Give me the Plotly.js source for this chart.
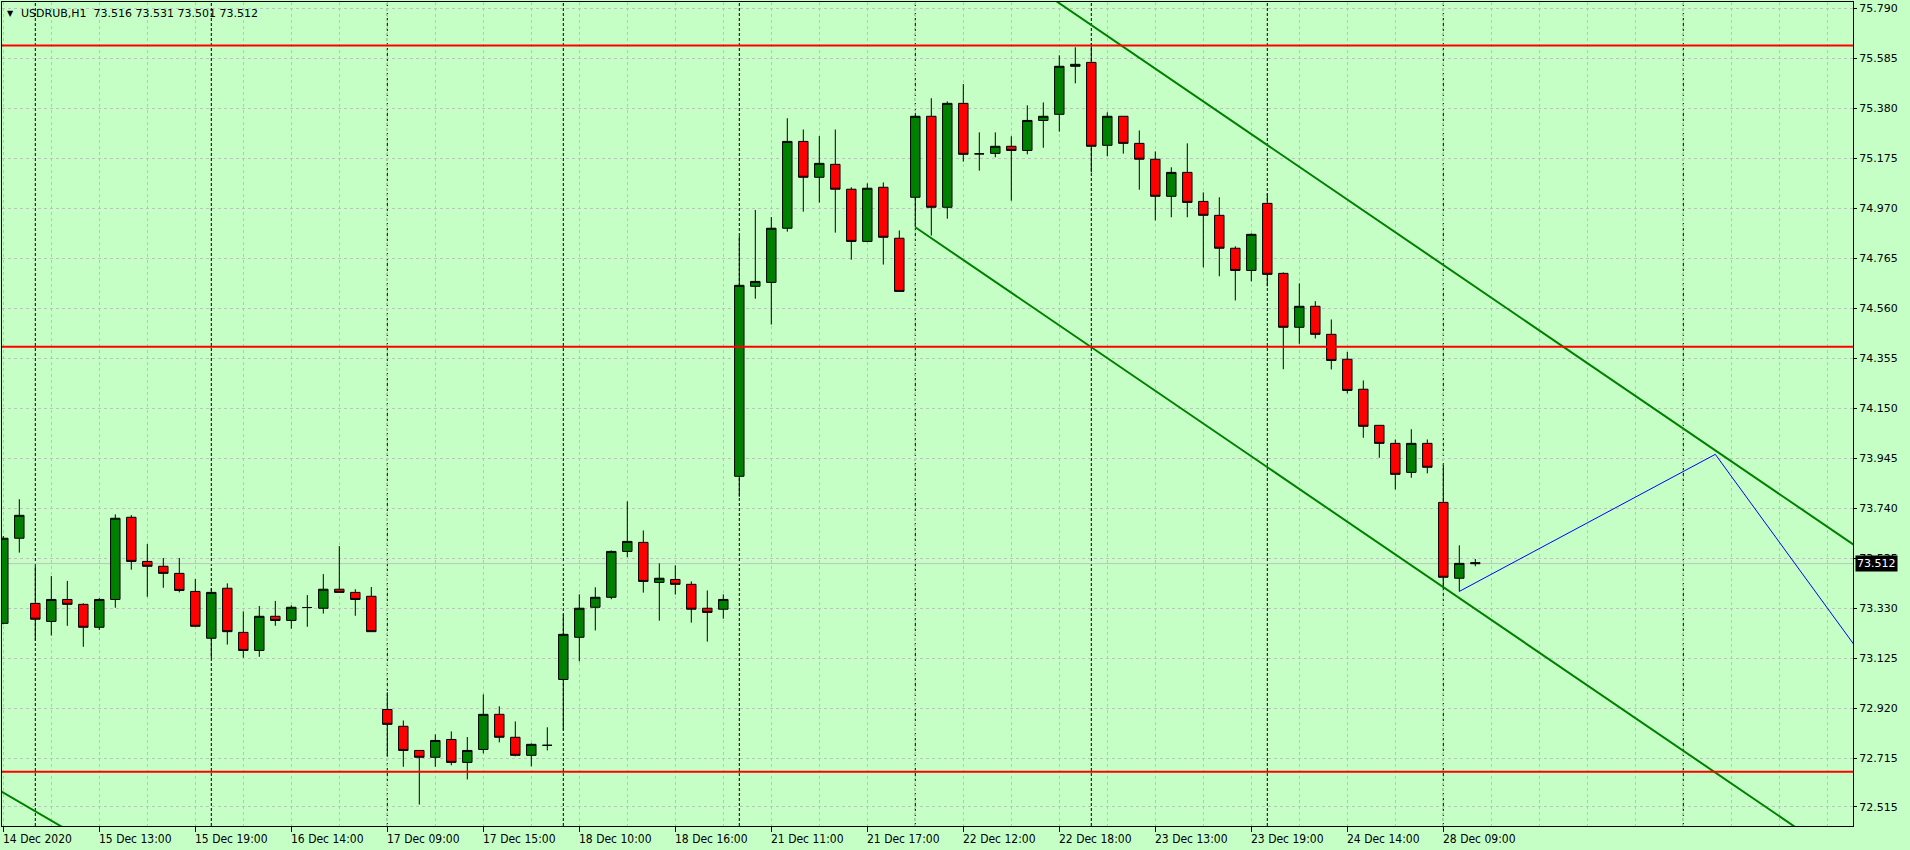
<!DOCTYPE html>
<html><head><meta charset="utf-8">
<script src="https://cdn.plot.ly/plotly-3.0.1.min.js"></script>
<style>html,body{margin:0;padding:0;background:#c6ffc6;}#chart{width:1910px;height:850px;}</style>
</head><body><div id="chart"></div>
<script>
// ---- data ----
const chartTitle = "USDRUB,H1\u00a0\u00a073.516 73.531 73.501 73.512";
const openP = [73.267,73.616,73.349,73.275,73.365,73.345,73.251,73.365,73.702,73.521,
73.501,73.472,73.398,73.206,73.411,73.230,73.156,73.296,73.279,73.332,
73.329,73.407,73.394,73.378,72.914,72.845,72.746,72.718,72.791,72.697,
72.750,72.894,72.800,72.726,72.767,73.037,73.210,73.333,73.374,73.562,
73.599,73.435,73.447,73.427,73.329,73.325,73.870,74.649,74.665,74.887,
75.243,75.096,75.149,75.047,74.833,75.055,74.846,75.014,75.346,74.973,
75.399,75.192,75.194,75.223,75.206,75.329,75.354,75.551,75.567,75.227,
75.346,75.235,75.170,75.018,75.116,74.997,74.940,74.805,74.714,74.989,
74.702,74.481,74.567,74.452,74.350,74.227,74.079,74.005,73.886,74.005,
73.763,73.452,73.516];
const highP = [73.625,73.776,73.502,73.461,73.441,73.349,73.370,73.714,73.711,73.592,
73.535,73.535,73.449,73.411,73.431,73.316,73.338,73.359,73.341,73.383,
73.469,73.584,73.407,73.416,72.984,72.869,72.746,72.812,72.824,72.801,
72.976,72.927,72.865,72.775,72.841,73.304,73.386,73.415,73.566,73.767,
73.648,73.513,73.505,73.439,73.402,73.386,74.855,74.962,74.933,75.338,
75.292,75.265,75.292,75.055,75.071,75.075,74.878,75.349,75.420,75.407,
75.478,75.280,75.280,75.264,75.391,75.403,75.596,75.629,75.645,75.362,
75.346,75.288,75.202,75.137,75.235,75.034,75.014,74.813,74.866,75.030,
74.706,74.661,74.588,74.513,74.380,74.263,74.079,74.021,74.063,74.021,
73.919,73.587,73.531];
const lowP = [73.263,73.557,73.196,73.217,73.257,73.171,73.240,73.331,73.487,73.376,
73.413,73.394,73.253,73.124,73.180,73.126,73.130,73.257,73.245,73.253,
73.307,73.394,73.298,73.233,72.720,72.679,72.524,72.679,72.685,72.627,
72.734,72.779,72.722,72.681,72.746,72.828,73.111,73.238,73.366,73.538,
73.393,73.278,73.385,73.270,73.192,73.286,73.786,74.598,74.492,74.873,
74.955,74.992,74.869,74.758,74.830,74.738,74.628,74.891,74.857,74.926,
75.160,75.123,75.178,75.000,75.190,75.217,75.283,75.481,75.116,75.182,
75.193,75.045,74.919,74.932,74.932,74.727,74.690,74.591,74.669,74.649,
74.309,74.413,74.435,74.308,74.210,74.028,73.946,73.816,73.864,73.882,
73.411,73.398,73.501];
const closeP = [73.616,73.710,73.284,73.365,73.345,73.251,73.365,73.698,73.521,73.501,
73.472,73.402,73.255,73.394,73.233,73.156,73.296,73.279,73.333,73.332,
73.407,73.394,73.365,73.233,72.853,72.746,72.718,72.787,72.697,72.746,
72.894,72.800,72.726,72.771,72.767,73.222,73.329,73.374,73.562,73.603,
73.439,73.452,73.427,73.325,73.312,73.365,74.653,74.669,74.887,75.243,
75.096,75.153,75.047,74.833,75.051,74.850,74.628,75.346,74.973,75.399,
75.190,75.192,75.223,75.206,75.329,75.346,75.551,75.559,75.223,75.346,
75.235,75.170,75.018,75.116,74.993,74.940,74.805,74.714,74.862,74.698,
74.481,74.567,74.452,74.345,74.222,74.075,74.005,73.878,74.005,73.907,
73.456,73.513,73.512];

const xTickBars = [0,6,12,18,24,30,36,42,48,54,60,66,72,78,84,90];
const xTickText = ["14 Dec 2020","15 Dec 13:00","15 Dec 19:00","16 Dec 14:00","17 Dec 09:00",
"17 Dec 15:00","18 Dec 10:00","18 Dec 16:00","21 Dec 11:00","21 Dec 17:00","22 Dec 12:00",
"22 Dec 18:00","23 Dec 13:00","23 Dec 19:00","24 Dec 14:00","28 Dec 09:00"];
const yTickVals = [75.790,75.585,75.380,75.175,74.970,74.765,74.560,74.355,74.150,73.945,
73.740,73.535,73.330,73.125,72.920,72.715,72.515];
const yTickText = ["75.790","75.585","75.380","75.175","74.970","74.765","74.560","74.355","74.150","73.945",
"73.740","73.535","73.330","73.125","72.920","72.715","72.515"];
const daySeparatorBars = [2,13,24,35,46,57,68,79,90,105];
const levelLines = [75.636, 74.401, 72.659];
const bidPrice = 73.512;
const channelUpperBars = [57, 120], channelUpperPrices = [76.212, 73.395];
const channelLowerBars = [57, 120], channelLowerPrices = [74.891, 72.074];
const oldLineBars = [-2, 4], oldLinePrices = [72.649, 72.420];
const projBars = [91, 107, 120], projPrices = [73.398, 73.960, 72.790];

// ---- chart ----
const bars = openP.map((_, i) => i);
const bg = '#c6ffc6';
const gridC = '#c0c0c0';
const traces = [
  {type:'candlestick', x:bars, open:openP, high:highP, low:lowP, close:closeP,
   increasing:{fillcolor:'#008000', line:{color:'#000000', width:1}},
   decreasing:{fillcolor:'#ff0000', line:{color:'#000000', width:1}},
   whiskerwidth:0, hoverinfo:'skip', showlegend:false},
  {type:'scatter', mode:'lines', x:channelUpperBars, y:channelUpperPrices, line:{color:'#008000', width:2}, hoverinfo:'skip', showlegend:false},
  {type:'scatter', mode:'lines', x:channelLowerBars, y:channelLowerPrices, line:{color:'#008000', width:2}, hoverinfo:'skip', showlegend:false},
  {type:'scatter', mode:'lines', x:oldLineBars, y:oldLinePrices, line:{color:'#008000', width:2}, hoverinfo:'skip', showlegend:false},
  {type:'scatter', mode:'lines', x:projBars, y:projPrices, line:{color:'#0000ff', width:1}, hoverinfo:'skip', showlegend:false}
];
const shapes = [];
daySeparatorBars.forEach(b => shapes.push({type:'line', xref:'x', yref:'paper', x0:b, x1:b, y0:0, y1:1,
  line:{color:'#000000', width:1, dash:'3px,2px'}, layer:'between'}));
shapes.push({type:'line', xref:'paper', yref:'y', x0:0, x1:1, y0:bidPrice, y1:bidPrice, line:{color:'#c0c0c0', width:1}, layer:'between'});
levelLines.forEach(v => shapes.push({type:'line', xref:'paper', yref:'y', x0:0, x1:1, y0:v, y1:v,
  line:{color:'#ff0000', width:2}, layer:'above'}));

const annotations = [];
xTickBars.forEach((b, i) => annotations.push({xref:'x', yref:'paper', x:b, y:0, xanchor:'left', yanchor:'top',
  xshift:-2, yshift:-4, text:xTickText[i], showarrow:false,
  font:{family:'DejaVu Sans Condensed', size:12, color:'#000000'}}));
annotations.push({xref:'paper', yref:'paper', x:0, y:1, xanchor:'left', yanchor:'top', xshift:3, yshift:-5,
  text:'\u25BC', showarrow:false, font:{family:'DejaVu Sans', size:8, color:'#000000'}});
annotations.push({xref:'paper', yref:'paper', x:0, y:1, xanchor:'left', yanchor:'top', xshift:17, yshift:-3,
  text:chartTitle, showarrow:false, font:{family:'DejaVu Sans', size:11, color:'#000000'}});
annotations.push({xref:'paper', yref:'y', x:1, y:bidPrice, xanchor:'left', yanchor:'middle', xshift:2,
  text:bidPrice.toFixed(3), showarrow:false, bgcolor:'#000000', borderpad:1,
  font:{family:'DejaVu Sans', size:11, color:'#ffffff'}});

const layout = {
  width:1910, height:850,
  margin:{l:2, r:57, t:2, b:24, pad:0},
  paper_bgcolor:bg, plot_bgcolor:bg,
  showlegend:false, hovermode:false,
  boxgap:0.41, boxgroupgap:0,
  xaxis:{range:[-0.081, 115.606], showline:true, mirror:true, linecolor:'#000000', linewidth:1,
    zeroline:false, rangeslider:{visible:false}, tickmode:'array', tickvals:xTickBars, ticktext:xTickText,
    showticklabels:false, ticks:'outside', ticklen:5, tickcolor:'#000000',
    showgrid:true, gridcolor:gridC, griddash:'3px,3px', gridwidth:1,
    minor:{tick0:0, dtick:3, showgrid:true, gridcolor:gridC, griddash:'3px,3px', gridwidth:1, ticks:''}},
  yaxis:{range:[72.4362, 75.8146], side:'right', showline:true, mirror:true, linecolor:'#000000', linewidth:1,
    zeroline:false, tickmode:'array', tickvals:yTickVals, ticktext:yTickText,
    ticks:'outside', ticklen:3, tickcolor:'#000000',
    tickfont:{family:'DejaVu Sans', size:11, color:'#000000'},
    showgrid:true, gridcolor:gridC, griddash:'3px,3px', gridwidth:1},
  shapes:shapes, annotations:annotations
};
Plotly.newPlot('chart', traces, layout, {staticPlot:true, displayModeBar:false});
</script>
</body></html>
